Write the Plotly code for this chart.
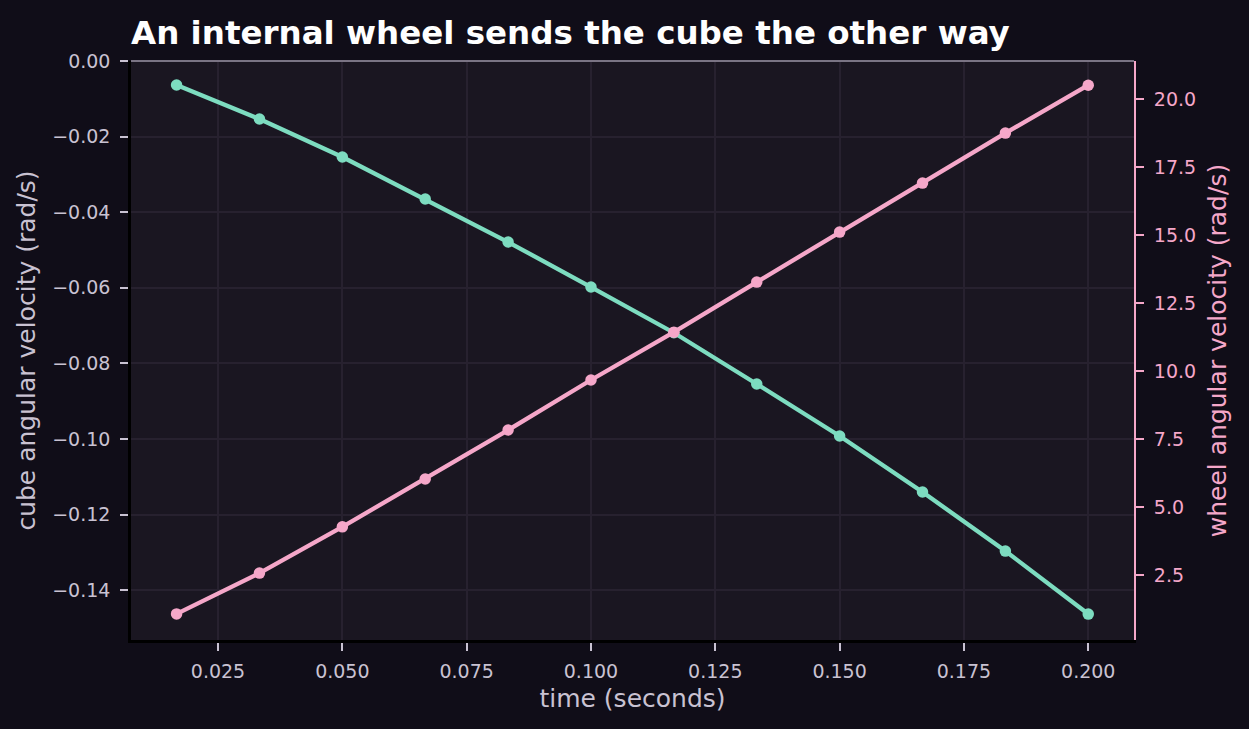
import plotly.graph_objects as go

# time stamps (seconds), one per frame at 60 Hz
time_s = [1/60, 2/60, 3/60, 4/60, 5/60, 6/60, 7/60, 8/60, 9/60, 10/60, 11/60, 12/60]

# cube angular velocity (rad/s)
cube_w = [-0.00635, -0.01535, -0.02540, -0.03652, -0.04790, -0.05981,
          -0.07190, -0.08547, -0.09923, -0.11405, -0.12967, -0.14634]

# wheel angular velocity (rad/s)
wheel_w = [1.07, 2.57, 4.27, 6.03, 7.83, 9.67, 11.43, 13.27, 15.11, 16.91, 18.75, 20.51]

x_ticks = [0.025, 0.050, 0.075, 0.100, 0.125, 0.150, 0.175, 0.200]
left_ticks = [0.00, -0.02, -0.04, -0.06, -0.08, -0.10, -0.12, -0.14]
right_ticks = [2.5, 5.0, 7.5, 10.0, 12.5, 15.0, 17.5, 20.0]

GREEN = "#7ddcc0"
PINK = "#f5a7c9"
TICK = "#c9c2d2"
GRID = "#27212f"

fig = go.Figure()

fig.add_trace(go.Scatter(x=time_s, y=cube_w, mode="lines+markers", name="cube",
                         line=dict(color=GREEN, width=4.3), marker=dict(size=11.5, color=GREEN),
                         yaxis="y"))
fig.add_trace(go.Scatter(x=time_s, y=wheel_w, mode="lines+markers", name="wheel",
                         line=dict(color=PINK, width=4.3), marker=dict(size=11.5, color=PINK),
                         yaxis="y2"))

fig.update_layout(
    width=1249, height=729,
    paper_bgcolor="#100d18", plot_bgcolor="#1a1621",
    font=dict(family="DejaVu Sans", color=TICK, size=19),
    margin=dict(l=131, r=115, t=61, b=89),
    showlegend=False,
    title=dict(text="<b>An internal wheel sends the cube the other way</b>",
               x=131/1249, xanchor="left", y=1 - 33/729, yanchor="middle",
               font=dict(size=32.5, color="#ffffff", family="DejaVu Sans")),
    xaxis=dict(range=[0.0075, 0.2092], tickvals=x_ticks, tickformat=".3f",
               showgrid=True, gridcolor=GRID, gridwidth=1.5, zeroline=False,
               showline=True, linecolor="#000000", linewidth=2.5,
               ticks="outside", ticklen=8, tickcolor=TICK, tickwidth=2,
               ticklabelstandoff=4, automargin=False,
               title=dict(text="time (seconds)", font=dict(size=25, color=TICK), standoff=9)),
    yaxis=dict(range=[-0.1532, 0.0], tickvals=left_ticks, tickformat=".2f",
               showgrid=True, gridcolor=GRID, gridwidth=1.5, zeroline=False,
               showline=True, linecolor="#000000", linewidth=2.5,
               ticks="outside", ticklen=8, tickcolor=TICK, tickwidth=2,
               ticklabelstandoff=6, automargin=False,
               title=dict(text="cube angular velocity (rad/s)", font=dict(size=25, color=TICK),
                          standoff=10)),
    yaxis2=dict(range=[0.11, 21.4], tickvals=right_ticks, tickformat=".1f",
                overlaying="y", side="right", showgrid=False, zeroline=False,
                showline=True, linecolor=PINK, linewidth=2,
                ticks="outside", ticklen=8, tickcolor=PINK, tickwidth=2,
                ticklabelstandoff=6, automargin=False,
                tickfont=dict(color=PINK),
                title=dict(text="wheel angular velocity (rad/s)", font=dict(size=25, color=PINK),
                           standoff=13)),
)

# top spine
fig.add_shape(type="line", xref="paper", yref="paper", x0=0, x1=1, y0=1, y1=1,
              line=dict(color="#7a7484", width=2))

fig.write_html("out.html", config={"displayModeBar": False},
               post_script="document.body.style.margin='0';"
                           "document.body.style.background='#100d18';")
